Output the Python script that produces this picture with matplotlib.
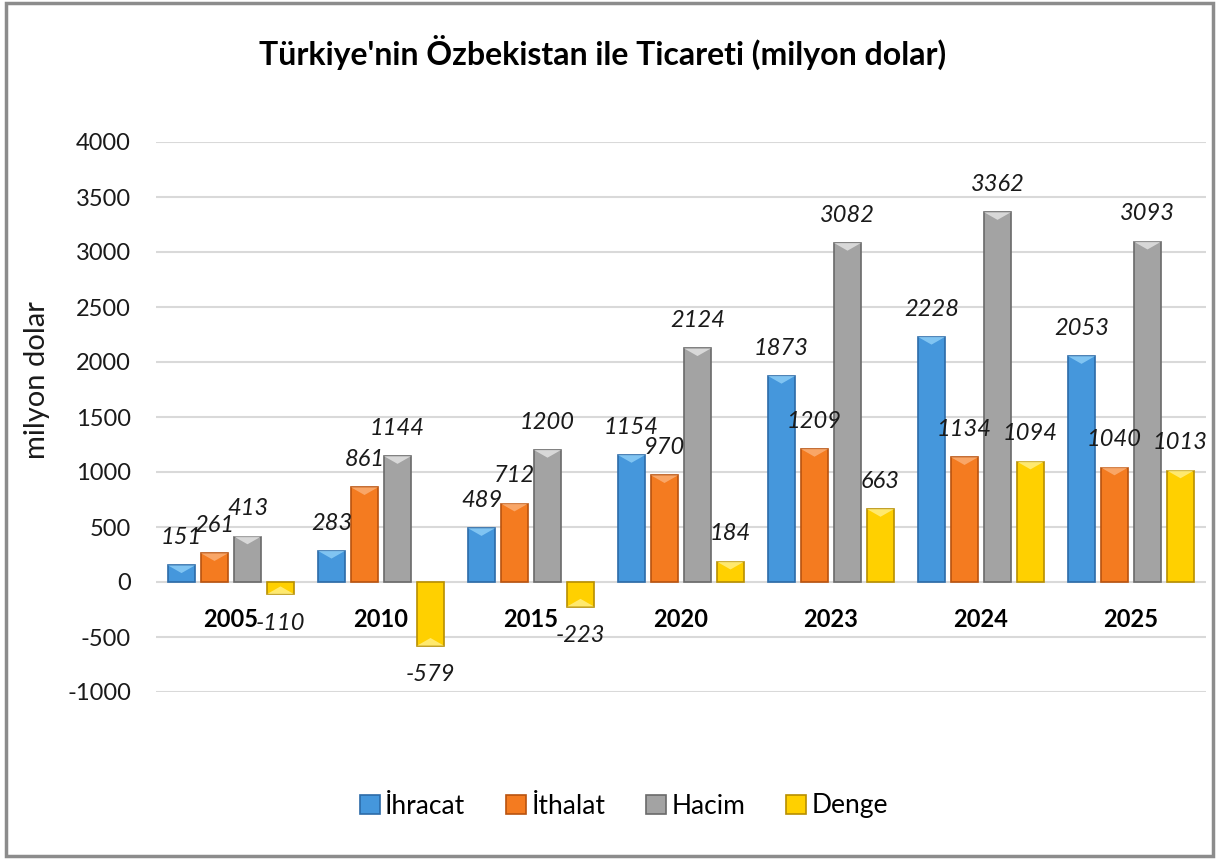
import numpy as np
import matplotlib.pyplot as plt
from matplotlib.patches import Rectangle, Polygon

plt.rcParams['font.family'] = ['Lato', 'DejaVu Sans']
plt.rcParams['axes.unicode_minus'] = False

years = ['2005', '2010', '2015', '2020', '2023', '2024', '2025']
ihracat = [151, 283, 489, 1154, 1873, 2228, 2053]
ithalat = [261, 861, 712, 970, 1209, 1134, 1040]
hacim = [413, 1144, 1200, 2124, 3082, 3362, 3093]
denge = [-110, -579, -223, 184, 663, 1094, 1013]

series = [
    ('İhracat', ihracat, '#4597DC', '#2C6BA8', '#8FD0F8'),
    ('İthalat', ithalat, '#F47B20', '#B9530F', '#FBB27A'),
    ('Hacim', hacim, '#A3A3A3', '#6A6A6A', '#E6E6E6'),
    ('Denge', denge, '#FFD000', '#B88F00', '#FFF08A'),
]

fig = plt.figure(figsize=(12.19, 8.59), dpi=100)
ax = fig.add_axes([156 / 1219, 1 - 692 / 859, 1050 / 1219, 550 / 859])

x = np.arange(len(years))
step = 0.22
width = 0.18

for k, (name, vals, col, edge, light) in enumerate(series):
    off = (k - 1.5) * step
    bars = ax.bar(x + off, vals, width, color=col, edgecolor=edge,
                  linewidth=1.2, label=name, zorder=3)
    for b, v in zip(bars, vals):
        # hafif kabartma efekti (çubuk ucunda açık üçgen)
        bx, bw = b.get_x(), b.get_width()
        end = b.get_y() + b.get_height()
        d = 70 if v >= 0 else -70
        d = d if abs(v) > 100 else d * abs(v) / 100
        tri = Polygon([(bx, end), (bx + bw, end), (bx + bw / 2, end - d)],
                      closed=True, facecolor=light, edgecolor='none',
                      alpha=0.8, zorder=4)
        ax.add_patch(tri)
        ax.annotate(str(v), (b.get_x() + bw / 2, v),
                    xytext=(0, 20 if v >= 0 else -21), textcoords='offset points',
                    ha='center', va='center', fontsize=17, style='italic',
                    color='#1A1A1A', zorder=5)

ax.set_ylim(-1000, 4000)
ax.set_xlim(-0.5, len(years) - 0.5)
ax.set_yticks(np.arange(-1000, 4001, 500))
ax.yaxis.grid(True, color='#D9D9D9', linewidth=1.5, zorder=0)
ax.tick_params(axis='y', length=0, pad=18, labelsize=17)
for t in ax.get_yticklabels():
    t.set_color('#1A1A1A')

ax.spines['bottom'].set_position(('data', 0))
for s in ax.spines.values():
    s.set_visible(False)
ax.set_xticks(x)
ax.set_xticklabels(years, fontsize=17, fontweight='bold')
ax.tick_params(axis='x', length=0, pad=19)

fig.text(37 / 1219, 1 - 380 / 859, 'milyon dolar', rotation=90,
         ha='center', va='center', fontsize=21, color='#1A1A1A')
fig.text(603 / 1219, 1 - 52 / 859, "Türkiye'nin Özbekistan ile Ticareti (milyon dolar)",
         ha='center', va='center', fontsize=23, fontweight='bold')

fig.legend(loc='center', bbox_to_anchor=(624 / 1219, 1 - 806 / 859), ncol=4,
           frameon=False, fontsize=19, handlelength=0.75, handleheight=0.75,
           handletextpad=0.2, columnspacing=1.55)

fig.patches.append(Rectangle((0.005, 0.004), 0.99, 0.992, transform=fig.transFigure,
                             fill=False, edgecolor='#8C8C8C', linewidth=2.5))

fig.savefig('out.png', dpi=100)
